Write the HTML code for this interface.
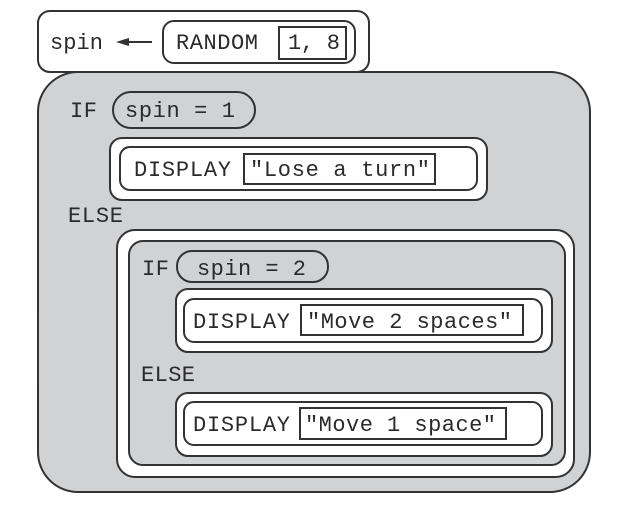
<!DOCTYPE html>
<html><head><style>html,body{margin:0;padding:0;background:#fff}svg{display:block}</style></head>
<body>
<svg width="632" height="512" viewBox="0 0 632 512" xmlns="http://www.w3.org/2000/svg" font-family="'Liberation Mono', monospace" font-size="22" fill="#2a2a2a">
<g stroke="#333" stroke-width="2">
<rect x="38" y="11" width="331" height="61" rx="12" fill="#fff"/>
<rect x="163" y="21" width="192" height="42" rx="11" fill="#fff"/>
<rect x="279" y="27" width="67" height="32" fill="#fff"/>
<line x1="125" y1="42" x2="152" y2="42"/>
<path d="M116 42 L129 38 L129 46 Z" fill="#333" stroke="none"/>
<rect x="38" y="72" width="552" height="420" rx="40" fill="#d1d2d4"/>
<rect x="113" y="92" width="142" height="36" rx="18" fill="#d1d2d4"/>
<rect x="110" y="138" width="377" height="62" rx="12" fill="#fff"/>
<rect x="120" y="147" width="357" height="43" rx="10" fill="#fff"/>
<rect x="244" y="154" width="191" height="30" fill="#fff"/>
<rect x="117" y="230" width="457" height="247" rx="18" fill="#fff"/>
<rect x="129" y="241" width="436" height="224" rx="14" fill="#d1d2d4"/>
<rect x="177" y="251" width="151" height="31" rx="15" fill="#d1d2d4"/>
<rect x="176" y="289" width="376" height="63" rx="12" fill="#fff"/>
<rect x="184" y="299" width="358" height="43" rx="10" fill="#fff"/>
<rect x="301" y="305" width="222" height="30" fill="#fff"/>
<rect x="176" y="393" width="376" height="63" rx="12" fill="#fff"/>
<rect x="184" y="402" width="358" height="43" rx="10" fill="#fff"/>
<rect x="300" y="408" width="206" height="31" fill="#fff"/>
</g>
<g stroke="none" lengthAdjust="spacing">
<text x="50" y="49" textLength="53">spin</text>
<text x="176" y="49" textLength="82">RANDOM</text>
<text x="288" y="49" textLength="52">1, 8</text>
<text x="70" y="117" textLength="27">IF</text>
<text x="125" y="117" textLength="110">spin = 1</text>
<text x="134" y="176" textLength="97">DISPLAY</text>
<text x="250" y="176" textLength="180">"Lose a turn"</text>
<text x="68" y="222" textLength="55">ELSE</text>
<text x="142" y="275" textLength="27">IF</text>
<text x="197" y="275" textLength="109">spin = 2</text>
<text x="193" y="328" textLength="97">DISPLAY</text>
<text x="307" y="328" textLength="205">"Move 2 spaces"</text>
<text x="141" y="381" textLength="54">ELSE</text>
<text x="193" y="431" textLength="97">DISPLAY</text>
<text x="305" y="431" textLength="191">"Move 1 space"</text>
</g>
</svg>
</body></html>
